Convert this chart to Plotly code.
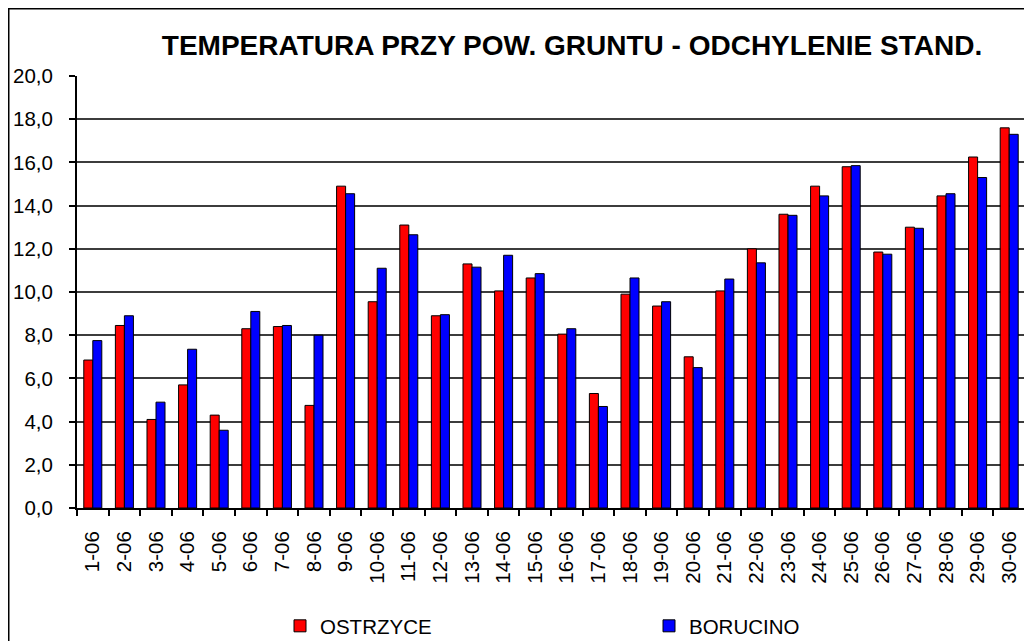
import plotly.graph_objects as go

categories = [f"{d}-06" for d in range(1, 31)]
ostrzyce = [6.85, 8.45, 4.1, 5.7, 4.3, 8.3, 8.4, 4.75, 14.9, 9.55,
            13.1, 8.9, 11.3, 10.05, 10.65, 8.05, 5.3, 9.9, 9.35, 7.0,
            10.05, 12.0, 13.6, 14.9, 15.8, 11.85, 13.0, 14.45, 16.25, 17.6]
borucino = [7.75, 8.9, 4.9, 7.35, 3.6, 9.1, 8.45, 8.0, 14.55, 11.1,
            12.65, 8.95, 11.15, 11.7, 10.85, 8.3, 4.7, 10.65, 9.55, 6.5,
            10.6, 11.35, 13.55, 14.45, 15.85, 11.75, 12.95, 14.55, 15.3, 17.3]
y_ticks = [0, 2, 4, 6, 8, 10, 12, 14, 16, 18, 20]
y_tick_text = [f"{v:.1f}".replace(".", ",") for v in y_ticks]
title_text = "TEMPERATURA PRZY POW. GRUNTU - ODCHYLENIE STAND."

# page body margin offset (browser default 8px)
O = 8
W, H = 1032 - O, 641 - O
L, R, T, B = 77 - O, 1025 - O, 76 - O, 508 - O

def px(x):
    return (x - O - L) / (R - L)

def py(y):
    return (B - (y - O)) / (B - T)

fig = go.Figure()
fig.add_trace(go.Bar(x=categories, y=ostrzyce, name="OSTRZYCE",
                     marker=dict(color="#ff0000", line=dict(color="black", width=1))))
fig.add_trace(go.Bar(x=categories, y=borucino, name="BORUCINO",
                     marker=dict(color="#0000ff", line=dict(color="black", width=1))))

shapes = [
    # outer frame
    dict(type="rect", xref="paper", yref="paper", x0=px(8.75), x1=px(1029), y0=py(8.75), y1=py(660),
         line=dict(color="black", width=1.5), fillcolor="rgba(0,0,0,0)", layer="below"),
    # right border of plot area
    dict(type="line", xref="paper", yref="paper", x0=1, x1=1, y0=0, y1=1,
         line=dict(color="#555555", width=1.5)),
]

fig.update_layout(
    width=W, height=H,
    margin=dict(l=L, r=W - R, t=T, b=H - B, pad=0, autoexpand=False),
    paper_bgcolor="white", plot_bgcolor="white",
    barmode="group", bargap=0.43, bargroupgap=0,
    font=dict(family="Liberation Sans, Arial, sans-serif", size=20, color="black"),
    title=dict(text=title_text, x=(572 - O) / W, xanchor="center", y=1 - (45 - O) / H,
               yanchor="middle",
               font=dict(family="Liberation Sans, sans-serif",
                         size=28, color="black", weight="bold")),
    showlegend=True,
    legend=dict(orientation="h", x=px(280), y=py(626), xanchor="left", yanchor="middle",
                entrywidth=324, entrywidthmode="pixels", itemwidth=30,
                font=dict(size=20.5), bgcolor="rgba(0,0,0,0)", traceorder="normal"),
    shapes=shapes,
)
fig.update_xaxes(type="category", tickangle=-90, showline=True, linecolor="black", linewidth=2,
                 ticks="outside", tickson="boundaries", ticklen=6, tickcolor="black", tickwidth=1.5,
                 showgrid=False, tickfont=dict(size=20.5), ticklabelstandoff=13)
fig.update_yaxes(range=[0, 20], tickvals=y_ticks, ticktext=y_tick_text, showline=True,
                 linecolor="black", linewidth=2, ticks="outside", ticklen=6, tickcolor="black",
                 tickwidth=1.5, showgrid=True, gridcolor="#3c3c3c", gridwidth=1.5,
                 zeroline=False, tickfont=dict(size=20.5), ticklabelstandoff=12)

fig.write_html("out.html")
